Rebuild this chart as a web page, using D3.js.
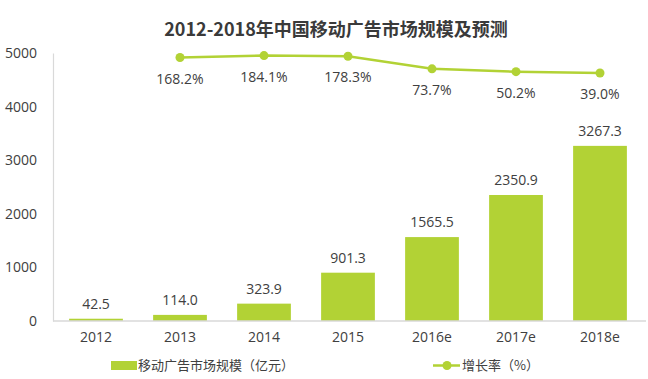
<!DOCTYPE html>
<html><head><meta charset="utf-8">
<script src="https://cdn.jsdelivr.net/npm/d3@7"></script>
<style>
body{margin:0;background:#fff;}
text{font-family:"Open Sans","Noto Sans CJK SC",sans-serif;fill:#404040;}
</style></head>
<body><svg id="c" width="648" height="379"></svg>
<script>
const categories = ["2012","2013","2014","2015","2016e","2017e","2018e"];
const marketSize = [42.5,114.0,323.9,901.3,1565.5,2350.9,3267.3];
const growthCats = ["2013","2014","2015","2016e","2017e","2018e"];
const growthRate = [168.2,184.1,178.3,73.7,50.2,39.0];
const yTicks = [0,1000,2000,3000,4000,5000];
const title = "2012-2018年中国移动广告市场规模及预测";
const legendBar = "移动广告市场规模（亿元）";
const legendLine = "增长率（%）";

const green = "#b2d235";
const svg = d3.select("#c");
const x = d3.scaleBand().domain(categories).range([54,642]).paddingInner(0.36).paddingOuter(0.18);
const y = d3.scaleLinear().domain([0,5000]).range([321,53]);
const y2 = d3.scaleLinear().domain([0,200]).range([77.7,53.7]);
const fs = "14px";

svg.append("text").attr("x",336).attr("y",36).attr("text-anchor","middle")
  .style("font-family","'Noto Sans CJK SC',sans-serif").style("font-weight","bold")
  .style("font-size","18px").style("fill","#3a3a3a").text(title);

// y axis
const ya = svg.append("g").attr("transform","translate(53,0)")
  .call(d3.axisLeft(y).tickValues(yTicks).tickFormat(d3.format("d")).tickSize(0).tickPadding(16));
ya.select(".domain").attr("stroke","#d9d9d9").attr("stroke-width",1.2);
ya.selectAll("text").style("font-size",fs).style("font-family","'Open Sans',sans-serif").attr("fill","#404040");

// bars
svg.selectAll("rect.bar").data(categories).enter().append("rect")
  .attr("x",d=>x(d)).attr("width",x.bandwidth())
  .attr("y",(d,i)=>y(marketSize[i])).attr("height",(d,i)=>y(0)-y(marketSize[i]))
  .attr("fill",green);
svg.selectAll("text.bl").data(categories).enter().append("text")
  .attr("x",d=>x(d)+x.bandwidth()/2).attr("y",(d,i)=>y(marketSize[i])-10)
  .attr("text-anchor","middle").style("font-size",fs).text((d,i)=>marketSize[i].toFixed(1));

// x axis
const xa = svg.append("g").attr("transform","translate(0,321)").call(d3.axisBottom(x).tickSize(0).tickPadding(11));
xa.select(".domain").remove();
svg.append("line").attr("x1",53).attr("x2",646).attr("y1",321).attr("y2",321).attr("stroke","#d9d9d9").attr("stroke-width",1.5);
xa.selectAll("text").style("font-size",fs).style("font-family","'Open Sans',sans-serif").attr("fill","#404040");

// line
const cx = d=>x(d)+x.bandwidth()/2;
const line = d3.line().x((d,i)=>cx(growthCats[i])).y(d=>y2(d));
svg.append("path").datum(growthRate).attr("d",line).attr("fill","none").attr("stroke",green).attr("stroke-width",2.5);
svg.selectAll("circle.pt").data(growthRate).enter().append("circle")
  .attr("cx",(d,i)=>cx(growthCats[i])).attr("cy",d=>y2(d)).attr("r",4.5).attr("fill",green);
svg.selectAll("text.gl").data(growthRate).enter().append("text")
  .attr("x",(d,i)=>cx(growthCats[i])).attr("y",d=>y2(d)+26)
  .attr("text-anchor","middle").style("font-size",fs).text(d=>d.toFixed(1)+"%");

// legend
svg.append("rect").attr("x",111).attr("y",361).attr("width",26).attr("height",9).attr("fill",green);
svg.append("text").attr("x",138).attr("y",370).style("font-size","13px").style("font-family","'Noto Sans CJK SC',sans-serif").text(legendBar);
svg.append("line").attr("x1",433).attr("x2",460).attr("y1",365.5).attr("y2",365.5).attr("stroke",green).attr("stroke-width",2.5);
svg.append("circle").attr("cx",447).attr("cy",365.5).attr("r",4.5).attr("fill",green);
svg.append("text").attr("x",462).attr("y",370).style("font-size","13px").style("font-family","'Noto Sans CJK SC',sans-serif").text(legendLine);
</script></body></html>
